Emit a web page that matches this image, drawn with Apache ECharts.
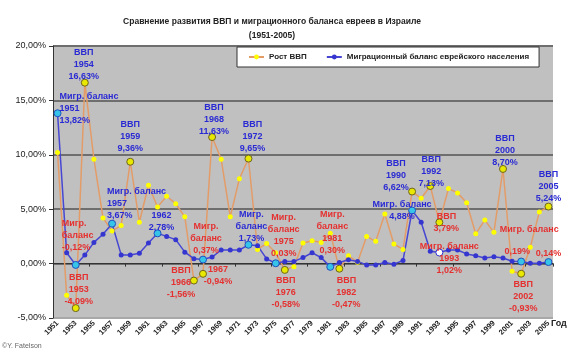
<!DOCTYPE html>
<html lang="ru">
<head>
<meta charset="UTF-8">
<title>ВВП и миграционный баланс</title>
<script src="https://cdn.jsdelivr.net/npm/echarts@6/dist/echarts.min.js"></script>
<style>
  html, body { margin: 0; padding: 0; background: #fff; }
  #main { width: 570px; height: 354px; }
</style>
</head>
<body>
<div id="main"></div>
<script>
// годы
const years = ['1951','1952','1953','1954','1955','1956','1957','1958','1959','1960',
  '1961','1962','1963','1964','1965','1966','1967','1968','1969','1970',
  '1971','1972','1973','1974','1975','1976','1977','1978','1979','1980',
  '1981','1982','1983','1984','1985','1986','1987','1988','1989','1990',
  '1991','1992','1993','1994','1995','1996','1997','1998','1999','2000',
  '2001','2002','2003','2004','2005'];

// рост ВВП, %
const gdp = [10.2, -2.9, -4.09, 16.63, 9.6, 4.2, 3.0, 3.5, 9.36, 3.8,
  7.2, 5.2, 6.2, 5.5, 4.3, -1.56, -0.94, 11.63, 9.6, 4.3,
  7.8, 9.65, 1.3, 1.85, 1.0, -0.58, -0.28, 1.9, 2.1, 1.95,
  2.8, -0.47, 0.73, 0.12, 2.5, 2.05, 4.56, 1.8, 1.3, 6.62,
  6.0, 7.13, 3.79, 6.9, 6.5, 5.6, 2.75, 4.0, 2.87, 8.70,
  -0.7, -0.93, 1.5, 4.75, 5.24];

// миграционный баланс, %
const migr = [13.82, 1.0, -0.12, 0.78, 1.95, 2.7, 3.67, 0.8, 0.8, 0.95,
  1.9, 2.78, 2.5, 2.2, 1.05, 0.45, 0.37, 0.6, 1.25, 1.25,
  1.25, 1.73, 1.65, 0.43, 0.03, 0.2, 0.2, 0.55, 1.0, 0.55,
  -0.3, 0.1, 0.35, 0.2, -0.12, -0.12, 0.1, -0.05, 0.28, 4.88,
  3.8, 1.13, 1.02, 1.25, 1.25, 0.89, 0.73, 0.52, 0.64, 0.52,
  0.21, 0.19, 0.03, 0.03, 0.14];

const gdpMarked = ['1953','1954','1959','1966','1967','1968','1972','1976','1982','1990','1992','1993','2000','2002','2005'];
const migrMarked = ['1951','1953','1957','1962','1967','1972','1975','1981','1990','2002','2005'];
const migrWhite = ['1993'];

const BLUE = '#2a2ad4';
const RED = '#e53030';
const FONT = '"Liberation Sans", Arial, sans-serif';

// подписи: ряд, год, текст, цвет, смещение
const notes = [
  ['gdp','1954','ВВП\n1954\n16,63%',BLUE,-1,-18,'center'],
  ['mig','1951','Мигр. баланс\n1951\n13,82%',BLUE,2,-5,'left'],
  ['gdp','1959','ВВП\n1959\n9,36%',BLUE,0,-25,'center'],
  ['mig','1957','Мигр. баланс\n1957\n3,67%',BLUE,-5,-20,'left'],
  ['mig','1962','1962\n2,78%',BLUE,4,-12,'center'],
  ['mig','1953','Мигр.\nбаланс\n-0,12%',RED,-14,-29,'left'],
  ['gdp','1953','ВВП\n1953\n-4,09%',RED,3,-19,'center'],
  ['gdp','1966','ВВП\n1966\n-1,56%',RED,-13,2,'center'],
  ['mig','1967','Мигр.\nбаланс\n0,37%',RED,3,-21,'center'],
  ['gdp','1967','1967\n-0,94%',RED,15,2,'center'],
  ['gdp','1968','ВВП\n1968\n11,63%',BLUE,2,-18,'center'],
  ['gdp','1972','ВВП\n1972\n9,65%',BLUE,4,-22,'center'],
  ['mig','1972','Мигр.\nбаланс\n1,73%',BLUE,3,-18,'center'],
  ['mig','1975','Мигр.\nбаланс\n1975\n0,03%',RED,8,-28,'center'],
  ['gdp','1976','ВВП\n1976\n-0,58%',RED,1,23,'center'],
  ['mig','1981','Мигр.\nбаланс\n1981\n0,30%',RED,2,-34,'center'],
  ['gdp','1982','ВВП\n1982\n-0,47%',RED,7,24,'center'],
  ['gdp','1990','ВВП\n1990\n6,62%',BLUE,-16,-16,'center'],
  ['gdp','1992','ВВП\n1992\n7,13%',BLUE,1,-15,'center'],
  ['mig','1990','Мигр. баланс\n4,88%',BLUE,-10,0,'center'],
  ['gdp','1993','ВВП\n3,79%',RED,7,0,'center'],
  ['mig','1993','Мигр. баланс\n1993\n1,02%',RED,10,6,'center'],
  ['gdp','2000','ВВП\n2000\n8,70%',BLUE,2,-18,'center'],
  ['gdp','2005','ВВП\n2005\n5,24%',BLUE,0,-20,'center'],
  ['gdp','2002','ВВП\n2002\n-0,93%',RED,2,23,'center'],
  ['mig','2003','Мигр. баланс',RED,-1,-34,'center'],
  ['mig','2002','0,19%',RED,-4,-10,'center'],
  ['mig','2005','0,14%',RED,0,-9,'center']
];

function buildData(values, key, marked, markStyle, whiteList) {
  return values.map(function (v, i) {
    const yr = years[i];
    const item = { value: v };
    if (marked.indexOf(yr) >= 0) {
      item.itemStyle = markStyle;
      item.symbolSize = 7;
    }
    if (whiteList && whiteList.indexOf(yr) >= 0) {
      item.itemStyle = { color: '#ffffff', borderColor: '#3535d0', borderWidth: 1 };
      item.symbolSize = 7;
    }
    const n = notes.find(function (a) { return a[0] === key && a[1] === yr; });
    if (n) {
      item.label = {
        show: true, formatter: n[2], color: n[3],
        position: 'inside', offset: [n[4], n[5]],
        align: n[6], verticalAlign: 'middle',
        fontSize: 9, fontWeight: 'bold', lineHeight: 12, fontFamily: FONT
      };
    }
    return item;
  });
}

const chart = echarts.init(document.getElementById('main'));
chart.setOption({
  animation: false,
  textStyle: { fontFamily: FONT },
  title: {
    text: 'Сравнение развития ВВП и миграционного баланса евреев в Израиле\n(1951-2005)',
    left: 267, top: 10, textAlign: 'center',
    textStyle: { fontSize: 8.5, fontWeight: 'bold', lineHeight: 14, color: '#222', fontFamily: FONT }
  },
  legend: {
    left: 237, top: 47,
    padding: [6, 10, 6, 11],
    backgroundColor: '#fff', borderColor: '#333', borderWidth: 1,
    itemWidth: 15, itemHeight: 6, itemGap: 19,
    textStyle: { fontSize: 8, fontWeight: 'bold', color: '#222', fontFamily: FONT }
  },
  grid: {
    left: 53, right: 17, top: 46, bottom: 36,
    show: true, backgroundColor: '#c0c0c0', borderWidth: 0
  },
  xAxis: [{
    type: 'category', data: years, boundaryGap: true, position: 'bottom',
    axisLine: { show: false, onZero: false },
    axisTick: { show: false },
    axisLabel: { rotate: 45, interval: 1, fontSize: 7.5, fontWeight: 'bold', color: '#222', margin: 4 }
  }, {
    type: 'category', data: years, boundaryGap: true, position: 'bottom',
    axisLine: { show: true, onZero: true, lineStyle: { color: '#333', width: 1 } },
    axisTick: { show: true, length: 3, lineStyle: { color: '#333' } },
    axisLabel: { show: false }
  }],
  yAxis: {
    type: 'value', min: -5, max: 20, interval: 5,
    axisLine: { show: true, lineStyle: { color: '#333' } },
    axisTick: { show: true, length: 4, lineStyle: { color: '#333' } },
    axisLabel: {
      fontSize: 9, color: '#222', margin: 7,
      formatter: function (v) { return v.toFixed(2).replace('.', ',') + '%'; }
    },
    splitLine: { lineStyle: { color: ['#a8a8a8', '#6e6e6e', '#6e6e6e', '#6e6e6e', '#6e6e6e', '#6e6e6e'], width: 2 } }
  },
  series: [{
    name: 'Рост ВВП', type: 'line', xAxisIndex: 0,
    data: buildData(gdp, 'gdp', gdpMarked, { color: '#e8e800', borderColor: '#6d6420', borderWidth: 1 }),
    symbol: 'circle', symbolSize: 5, showAllSymbol: true,
    lineStyle: { color: '#e39c68', width: 1.5 },
    itemStyle: { color: '#ffff00' }
  }, {
    name: 'Миграционный баланс еврейского населения', type: 'line', xAxisIndex: 0,
    data: buildData(migr, 'mig', migrMarked, { color: '#36c4e8', borderColor: '#2050c0', borderWidth: 1 }, migrWhite),
    symbol: 'circle', symbolSize: 5, showAllSymbol: true,
    lineStyle: { color: '#4646d2', width: 1.5 },
    itemStyle: { color: '#3535d0' }
  }],
  graphic: [{
    type: 'text', left: 551, top: 319,
    style: { text: 'Год', fontSize: 9, fontWeight: 'bold', fill: '#222', fontFamily: FONT }
  }, {
    type: 'text', left: 2, top: 343,
    style: { text: '©Y. Fatelson', fontSize: 7, fill: '#666', fontFamily: FONT }
  }]
});
</script>
</body>
</html>
